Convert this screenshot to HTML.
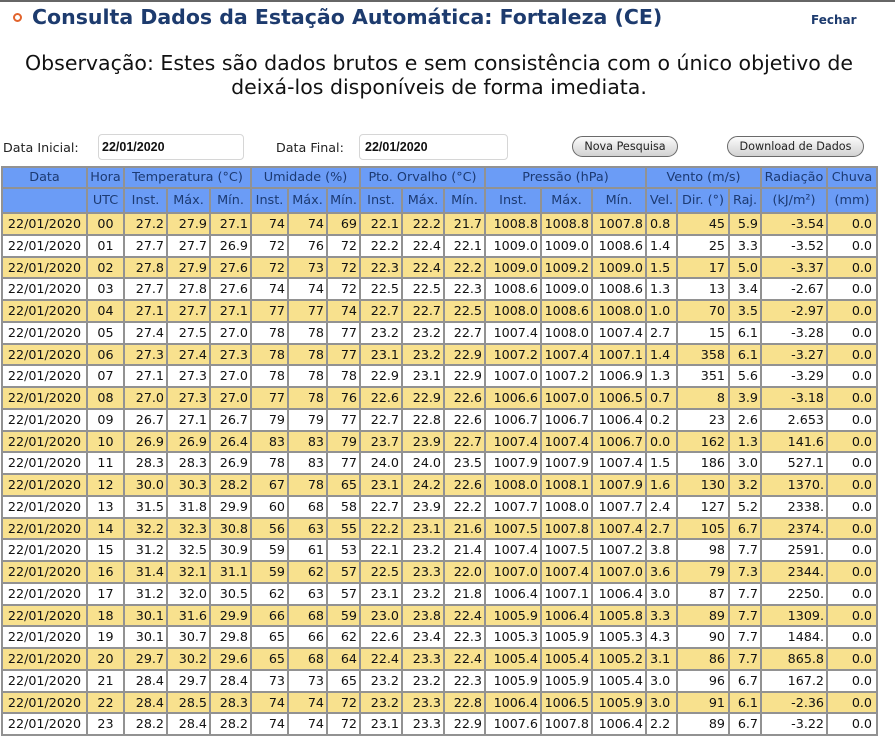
<!DOCTYPE html>
<html>
<head>
<meta charset="utf-8">
<style>
html,body{margin:0;padding:0;}
body{width:895px;height:750px;overflow:hidden;background:#fff;position:relative;font-family:"DejaVu Sans","Liberation Sans",sans-serif;color:#111;}
.topbar{position:absolute;left:0;top:0;width:895px;height:2px;background:#666;}
.bullet{position:absolute;left:13px;top:13px;width:5px;height:5px;border:2.5px solid #e2642d;border-radius:50%;background:#fff;}
.title{position:absolute;left:32px;top:6px;font-size:20.5px;font-weight:bold;color:#1d3b6e;white-space:nowrap;line-height:1.164;}
.fechar{position:absolute;left:811px;top:14px;font-size:12px;font-weight:bold;color:#1d3b6e;line-height:1.164;}
.obs{position:absolute;left:0;top:51px;width:878px;text-align:center;font-size:20.5px;line-height:24px;color:#111;}
.lbl{position:absolute;top:141px;font-size:12.7px;line-height:1.164;color:#222;white-space:nowrap;}
.inp{position:absolute;top:134px;border:1px solid #d6d6d6;border-radius:4px;box-sizing:border-box;height:26px;font-family:"Liberation Sans",sans-serif;font-weight:bold;font-size:12.5px;line-height:24px;color:#111;}
.btn{position:absolute;top:136px;height:21px;box-sizing:border-box;border:1px solid #6a6a6a;border-radius:11px;background:linear-gradient(#fbfbfb,#d2d2d2);font-size:11.2px;line-height:19px;text-align:center;color:#222;white-space:nowrap;}
.t{position:absolute;left:1px;top:166px;border-left:2px solid #929292;border-top:2px solid #929292;}
.r{display:flex;height:21.75px;}
.r>span{flex:none;box-sizing:border-box;border-right:2px solid #929292;border-bottom:2px solid #929292;text-align:right;padding-right:2px;line-height:19.75px;white-space:nowrap;overflow:hidden;font-size:12.7px;}
.y>span{background:#f8e18e;}
.h1,.h2{display:flex;}
.h1{height:21px;}
.h2{height:25px;}
.h1>span,.h2>span{flex:none;box-sizing:border-box;border-right:2px solid #929292;border-bottom:2px solid #929292;background:#6b9cf6;color:#1c3a72;text-align:center;white-space:nowrap;overflow:hidden;font-size:12.8px;}
.h1>span{line-height:19px;}
.h2>span{line-height:23px;}
.r>span:nth-child(1),.h2>span:nth-child(1){width:85px;text-align:center;padding:0;}
.r>span:nth-child(2),.h2>span:nth-child(2){width:37px;text-align:center;padding:0;}
.r>span:nth-child(3),.h2>span:nth-child(3){width:43px;}
.r>span:nth-child(4),.h2>span:nth-child(4){width:43px;}
.r>span:nth-child(5),.h2>span:nth-child(5){width:41px;}
.r>span:nth-child(6),.h2>span:nth-child(6){width:37px;}
.r>span:nth-child(7),.h2>span:nth-child(7){width:39px;}
.r>span:nth-child(8),.h2>span:nth-child(8){width:33px;}
.r>span:nth-child(9),.h2>span:nth-child(9){width:42px;}
.r>span:nth-child(10),.h2>span:nth-child(10){width:42px;}
.r>span:nth-child(11),.h2>span:nth-child(11){width:41px;}
.r>span:nth-child(12),.h2>span:nth-child(12){width:56px;}
.r>span:nth-child(13),.h2>span:nth-child(13){width:51px;}
.r>span:nth-child(14),.h2>span:nth-child(14){width:54px;}
.r>span:nth-child(15),.h2>span:nth-child(15){width:31px;}
.r>span:nth-child(15){text-align:left;padding-left:3px;padding-right:0;}
.r>span:nth-child(16),.h2>span:nth-child(16){width:52px;}
.r>span:nth-child(16){padding-right:3px;}
.r>span:nth-child(17),.h2>span:nth-child(17){width:32px;}
.r>span:nth-child(18),.h2>span:nth-child(18){width:66px;}
.r>span:nth-child(19),.h2>span:nth-child(19){width:50px;}
.r>span:nth-child(19){padding-right:4px;}
.h2>span{padding:0;}
</style>
</head>
<body>
<div class="topbar"></div>
<div class="bullet"></div>
<div class="title">Consulta Dados da Estação Automática: Fortaleza (CE)</div>
<div class="fechar">Fechar</div>
<div class="obs">Observação: Estes são dados brutos e sem consistência com o único objetivo de<br>deixá-los disponíveis de forma imediata.</div>

<div class="lbl" style="left:3px;">Data Inicial:</div>
<div class="inp" style="left:98px;width:146px;padding-left:3px;">22/01/2020</div>
<div class="lbl" style="left:276px;">Data Final:</div>
<div class="inp" style="left:359px;width:149px;padding-left:5px;">22/01/2020</div>
<div class="btn" style="left:572px;width:106px;">Nova Pesquisa</div>
<div class="btn" style="left:727px;width:137px;">Download de Dados</div>

<div class="t">
<div class="h1"><span style="width:85px">Data</span><span style="width:37px">Hora</span><span style="width:127px">Temperatura (°C)</span><span style="width:109px">Umidade (%)</span><span style="width:125px">Pto. Orvalho (°C)</span><span style="width:161px">Pressão (hPa)</span><span style="width:115px">Vento (m/s)</span><span style="width:66px">Radiação</span><span style="width:50px">Chuva</span></div>
<div class="h2"><span></span><span>UTC</span><span>Inst.</span><span>Máx.</span><span>Mín.</span><span>Inst.</span><span>Máx.</span><span>Mín.</span><span>Inst.</span><span>Máx.</span><span>Mín.</span><span>Inst.</span><span>Máx.</span><span>Mín.</span><span>Vel.</span><span>Dir. (°)</span><span>Raj.</span><span>(kJ/m²)</span><span>(mm)</span></div>
<div class="r y"><span>22/01/2020</span><span>00</span><span>27.2</span><span>27.9</span><span>27.1</span><span>74</span><span>74</span><span>69</span><span>22.1</span><span>22.2</span><span>21.7</span><span>1008.8</span><span>1008.8</span><span>1007.8</span><span>0.8</span><span>45</span><span>5.9</span><span>-3.54</span><span>0.0</span></div>
<div class="r"><span>22/01/2020</span><span>01</span><span>27.7</span><span>27.7</span><span>26.9</span><span>72</span><span>76</span><span>72</span><span>22.2</span><span>22.4</span><span>22.1</span><span>1009.0</span><span>1009.0</span><span>1008.6</span><span>1.4</span><span>25</span><span>3.3</span><span>-3.52</span><span>0.0</span></div>
<div class="r y"><span>22/01/2020</span><span>02</span><span>27.8</span><span>27.9</span><span>27.6</span><span>72</span><span>73</span><span>72</span><span>22.3</span><span>22.4</span><span>22.2</span><span>1009.0</span><span>1009.2</span><span>1009.0</span><span>1.5</span><span>17</span><span>5.0</span><span>-3.37</span><span>0.0</span></div>
<div class="r"><span>22/01/2020</span><span>03</span><span>27.7</span><span>27.8</span><span>27.6</span><span>74</span><span>74</span><span>72</span><span>22.5</span><span>22.5</span><span>22.3</span><span>1008.6</span><span>1009.0</span><span>1008.6</span><span>1.3</span><span>13</span><span>3.4</span><span>-2.67</span><span>0.0</span></div>
<div class="r y"><span>22/01/2020</span><span>04</span><span>27.1</span><span>27.7</span><span>27.1</span><span>77</span><span>77</span><span>74</span><span>22.7</span><span>22.7</span><span>22.5</span><span>1008.0</span><span>1008.6</span><span>1008.0</span><span>1.0</span><span>70</span><span>3.5</span><span>-2.97</span><span>0.0</span></div>
<div class="r"><span>22/01/2020</span><span>05</span><span>27.4</span><span>27.5</span><span>27.0</span><span>78</span><span>78</span><span>77</span><span>23.2</span><span>23.2</span><span>22.7</span><span>1007.4</span><span>1008.0</span><span>1007.4</span><span>2.7</span><span>15</span><span>6.1</span><span>-3.28</span><span>0.0</span></div>
<div class="r y"><span>22/01/2020</span><span>06</span><span>27.3</span><span>27.4</span><span>27.3</span><span>78</span><span>78</span><span>77</span><span>23.1</span><span>23.2</span><span>22.9</span><span>1007.2</span><span>1007.4</span><span>1007.1</span><span>1.4</span><span>358</span><span>6.1</span><span>-3.27</span><span>0.0</span></div>
<div class="r"><span>22/01/2020</span><span>07</span><span>27.1</span><span>27.3</span><span>27.0</span><span>78</span><span>78</span><span>78</span><span>22.9</span><span>23.1</span><span>22.9</span><span>1007.0</span><span>1007.2</span><span>1006.9</span><span>1.3</span><span>351</span><span>5.6</span><span>-3.29</span><span>0.0</span></div>
<div class="r y"><span>22/01/2020</span><span>08</span><span>27.0</span><span>27.3</span><span>27.0</span><span>77</span><span>78</span><span>76</span><span>22.6</span><span>22.9</span><span>22.6</span><span>1006.6</span><span>1007.0</span><span>1006.5</span><span>0.7</span><span>8</span><span>3.9</span><span>-3.18</span><span>0.0</span></div>
<div class="r"><span>22/01/2020</span><span>09</span><span>26.7</span><span>27.1</span><span>26.7</span><span>79</span><span>79</span><span>77</span><span>22.7</span><span>22.8</span><span>22.6</span><span>1006.7</span><span>1006.7</span><span>1006.4</span><span>0.2</span><span>23</span><span>2.6</span><span>2.653</span><span>0.0</span></div>
<div class="r y"><span>22/01/2020</span><span>10</span><span>26.9</span><span>26.9</span><span>26.4</span><span>83</span><span>83</span><span>79</span><span>23.7</span><span>23.9</span><span>22.7</span><span>1007.4</span><span>1007.4</span><span>1006.7</span><span>0.0</span><span>162</span><span>1.3</span><span>141.6</span><span>0.0</span></div>
<div class="r"><span>22/01/2020</span><span>11</span><span>28.3</span><span>28.3</span><span>26.9</span><span>78</span><span>83</span><span>77</span><span>24.0</span><span>24.0</span><span>23.5</span><span>1007.9</span><span>1007.9</span><span>1007.4</span><span>1.5</span><span>186</span><span>3.0</span><span>527.1</span><span>0.0</span></div>
<div class="r y"><span>22/01/2020</span><span>12</span><span>30.0</span><span>30.3</span><span>28.2</span><span>67</span><span>78</span><span>65</span><span>23.1</span><span>24.2</span><span>22.6</span><span>1008.0</span><span>1008.1</span><span>1007.9</span><span>1.6</span><span>130</span><span>3.2</span><span>1370.</span><span>0.0</span></div>
<div class="r"><span>22/01/2020</span><span>13</span><span>31.5</span><span>31.8</span><span>29.9</span><span>60</span><span>68</span><span>58</span><span>22.7</span><span>23.9</span><span>22.2</span><span>1007.7</span><span>1008.0</span><span>1007.7</span><span>2.4</span><span>127</span><span>5.2</span><span>2338.</span><span>0.0</span></div>
<div class="r y"><span>22/01/2020</span><span>14</span><span>32.2</span><span>32.3</span><span>30.8</span><span>56</span><span>63</span><span>55</span><span>22.2</span><span>23.1</span><span>21.6</span><span>1007.5</span><span>1007.8</span><span>1007.4</span><span>2.7</span><span>105</span><span>6.7</span><span>2374.</span><span>0.0</span></div>
<div class="r"><span>22/01/2020</span><span>15</span><span>31.2</span><span>32.5</span><span>30.9</span><span>59</span><span>61</span><span>53</span><span>22.1</span><span>23.2</span><span>21.4</span><span>1007.4</span><span>1007.5</span><span>1007.2</span><span>3.8</span><span>98</span><span>7.7</span><span>2591.</span><span>0.0</span></div>
<div class="r y"><span>22/01/2020</span><span>16</span><span>31.4</span><span>32.1</span><span>31.1</span><span>59</span><span>62</span><span>57</span><span>22.5</span><span>23.3</span><span>22.0</span><span>1007.0</span><span>1007.4</span><span>1007.0</span><span>3.6</span><span>79</span><span>7.3</span><span>2344.</span><span>0.0</span></div>
<div class="r"><span>22/01/2020</span><span>17</span><span>31.2</span><span>32.0</span><span>30.5</span><span>62</span><span>63</span><span>57</span><span>23.1</span><span>23.2</span><span>21.8</span><span>1006.4</span><span>1007.1</span><span>1006.4</span><span>3.0</span><span>87</span><span>7.7</span><span>2250.</span><span>0.0</span></div>
<div class="r y"><span>22/01/2020</span><span>18</span><span>30.1</span><span>31.6</span><span>29.9</span><span>66</span><span>68</span><span>59</span><span>23.0</span><span>23.8</span><span>22.4</span><span>1005.9</span><span>1006.4</span><span>1005.8</span><span>3.3</span><span>89</span><span>7.7</span><span>1309.</span><span>0.0</span></div>
<div class="r"><span>22/01/2020</span><span>19</span><span>30.1</span><span>30.7</span><span>29.8</span><span>65</span><span>66</span><span>62</span><span>22.6</span><span>23.4</span><span>22.3</span><span>1005.3</span><span>1005.9</span><span>1005.3</span><span>4.3</span><span>90</span><span>7.7</span><span>1484.</span><span>0.0</span></div>
<div class="r y"><span>22/01/2020</span><span>20</span><span>29.7</span><span>30.2</span><span>29.6</span><span>65</span><span>68</span><span>64</span><span>22.4</span><span>23.3</span><span>22.4</span><span>1005.4</span><span>1005.4</span><span>1005.2</span><span>3.1</span><span>86</span><span>7.7</span><span>865.8</span><span>0.0</span></div>
<div class="r"><span>22/01/2020</span><span>21</span><span>28.4</span><span>29.7</span><span>28.4</span><span>73</span><span>73</span><span>65</span><span>23.2</span><span>23.2</span><span>22.3</span><span>1005.9</span><span>1005.9</span><span>1005.4</span><span>3.0</span><span>96</span><span>6.7</span><span>167.2</span><span>0.0</span></div>
<div class="r y"><span>22/01/2020</span><span>22</span><span>28.4</span><span>28.5</span><span>28.3</span><span>74</span><span>74</span><span>72</span><span>23.2</span><span>23.3</span><span>22.8</span><span>1006.4</span><span>1006.5</span><span>1005.9</span><span>3.0</span><span>91</span><span>6.1</span><span>-2.36</span><span>0.0</span></div>
<div class="r"><span>22/01/2020</span><span>23</span><span>28.2</span><span>28.4</span><span>28.2</span><span>74</span><span>74</span><span>72</span><span>23.1</span><span>23.3</span><span>22.9</span><span>1007.6</span><span>1007.8</span><span>1006.4</span><span>2.2</span><span>89</span><span>6.7</span><span>-3.22</span><span>0.0</span></div>
</div>
</body>
</html>
